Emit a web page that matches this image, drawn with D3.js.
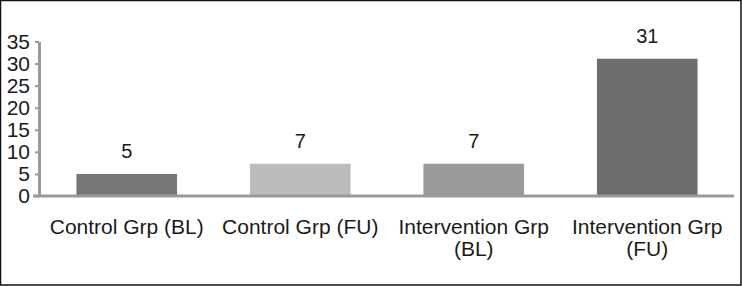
<!DOCTYPE html>
<html>
<head>
<meta charset="utf-8">
<script src="https://cdn.jsdelivr.net/npm/d3@7"></script>
<style>
  body { margin: 0; background: #fff; }
  text { font-family: "Liberation Sans", Arial, sans-serif; fill: #1a1a1a; }
</style>
</head>
<body>
<div class="container"></div>
<script>
var categories = ["Control Grp (BL)", "Control Grp (FU)", "Intervention Grp (BL)", "Intervention Grp (FU)"];
var values = [5.0, 7.3, 7.3, 31.1];
var valueLabels = ["5", "7", "7", "31"];
var barColors = ["#767676", "#bcbcbc", "#9b9b9d", "#6e6e70"];
var yTicks = [0, 5, 10, 15, 20, 25, 30, 35];

const WIDTH = 742;
const HEIGHT = 286;

var translate = function(x, y){
	return "translate(" + x + "," + y + ")";
};

var svg = d3.select('.container').append('svg')
	.attr('width', WIDTH)
	.attr('height', HEIGHT);

svg.append('rect')
	.attr('x', 0.5).attr('y', 0.5)
	.attr('width', WIDTH - 1.5).attr('height', HEIGHT - 1.5)
	.attr('fill', 'none')
	.attr('stroke', '#111')
	.attr('stroke-width', 1.5);

var xScale = d3.scaleBand()
	.domain(categories)
	.range([40, 734])
	.paddingInner(0.42)
	.paddingOuter(0.21);

var yScale = d3.scaleLinear()
	.domain([0, 35])
	.range([196, 41.5]);

// bars
svg.selectAll('rect.bar').data(values)
	.enter().append('rect')
	.classed('bar', true)
	.attr('x', function(d, i){ return xScale(categories[i]); })
	.attr('y', function(d){ return yScale(d); })
	.attr('width', xScale.bandwidth())
	.attr('height', function(d){ return yScale(0) - yScale(d); })
	.attr('fill', function(d, i){ return barColors[i]; });

// value labels
svg.selectAll('text.val').data(values)
	.enter().append('text')
	.classed('val', true)
	.attr('x', function(d, i){ return xScale(categories[i]) + xScale.bandwidth() / 2; })
	.attr('y', function(d){ return yScale(d) - 16; })
	.attr('text-anchor', 'middle')
	.style('font-size', '20px')
	.text(function(d, i){ return valueLabels[i]; });

// y axis
var yAxis = d3.axisLeft(yScale)
	.tickValues(yTicks)
	.tickSizeInner(4)
	.tickSizeOuter(0)
	.tickPadding(5);

var yg = svg.append('g')
	.attr('transform', translate(39, 0))
	.call(yAxis);
yg.select('.domain').attr('stroke', '#9a9a9a').attr('stroke-width', 3);
yg.selectAll('.tick line').attr('stroke', '#9a9a9a').attr('stroke-width', 2);
yg.selectAll('.tick text')
	.style('font-size', '21px')
	.attr('fill', '#1a1a1a')
	.attr('font-family', null);

// x axis
var xAxis = d3.axisBottom(xScale)
	.tickSize(0)
	.tickPadding(0);

var xg = svg.append('g')
	.attr('transform', translate(0, yScale(0)))
	.call(xAxis);
xg.select('.domain')
	.attr('d', 'M33,0H' + xScale.range()[1])
	.attr('stroke', '#9a9a9a')
	.attr('stroke-width', 3);

// wrap category labels that are wider than one band step
xg.selectAll('.tick text')
	.style('font-size', '21px')
	.attr('fill', '#1a1a1a')
	.attr('font-family', null)
	.attr('y', 0)
	.attr('dy', null)
	.each(function(){
		var t = d3.select(this);
		var words = t.text().split(' ');
		var lines = [];
		var line = [];
		t.text(null);
		var tmp = t.append('tspan');
		words.forEach(function(w){
			line.push(w);
			tmp.text(line.join(' '));
			if (tmp.node().getComputedTextLength() > xScale.step() - 4 && line.length > 1) {
				line.pop();
				lines.push(line.join(' '));
				line = [w];
			}
		});
		lines.push(line.join(' '));
		tmp.remove();
		lines.forEach(function(l, k){
			t.append('tspan')
				.attr('x', 0)
				.attr('y', 37.5 + k * 22)
				.text(l);
		});
	});
</script>
</body>
</html>
